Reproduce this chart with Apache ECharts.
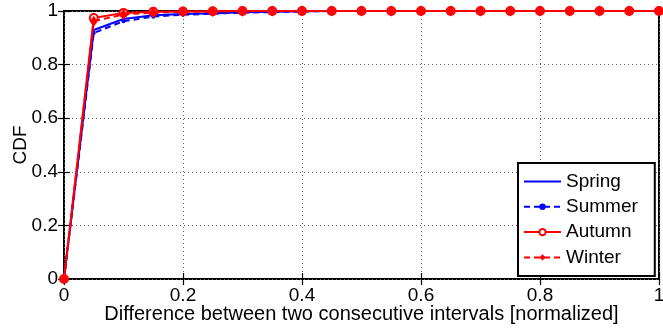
<!DOCTYPE html>
<html><head><meta charset="utf-8">
<script src="https://cdn.jsdelivr.net/npm/echarts@6/dist/echarts.min.js"></script>
<style>html,body{margin:0;padding:0;background:#fff}#c{width:663px;height:330px}</style>
</head><body><div id="c"></div>
<script>
const xValues = [0,0.05,0.1,0.15,0.2,0.25,0.3,0.35,0.4,0.45,0.5,0.55,0.6,0.65,0.7,0.75,0.8,0.85,0.9,0.95,1.0];
const spring = [0,0.929,0.970,0.984,0.989,0.992,0.995,0.997,0.999,1,1,1,1,1,1,1,1,1,1,1,1];
const summer = [0,0.918,0.962,0.979,0.986,0.990,0.994,0.996,0.998,1,1,1,1,1,1,1,1,1,1,1,1];
const autumn = [0,0.974,0.993,0.997,0.998,0.999,1,1,1,1,1,1,1,1,1,1,1,1,1,1,1];
const winter = [0,0.962,0.987,0.994,0.997,0.998,0.999,1,1,1,1,1,1,1,1,1,1,1,1,1,1];
const tickVals = [0,0.2,0.4,0.6,0.8,1];

const pairs = a => xValues.map((x,i)=>[x,a[i]]);
const FONT = 'Liberation Sans';
const FS = 19;
const chart = echarts.init(document.getElementById('c'));
const fmt = v => { const t = tickVals.find(k => Math.abs(k-v) < 1e-9); return String(t !== undefined ? t : v); };
const axisCommon = {min:0,max:1,interval:0.2,
  axisLine:{show:false}, axisTick:{show:true,inside:true,length:6,lineStyle:{color:'#000',width:1.2}}};
chart.setOption({
  animation:false,
  grid:{left:64,right:4,top:11,bottom:51,containLabel:false,outerBoundsMode:'none',
    show:true,borderColor:'#000',borderWidth:2,backgroundColor:'#fff'},
  legend:{
    orient:'vertical', left:518, top:163,
    backgroundColor:'#fff', borderColor:'#000', borderWidth:2,
    padding:[9,17,9,5], itemGap:6.3, itemWidth:37, itemHeight:8,
    textStyle:{fontFamily:FONT,fontSize:FS,lineHeight:19,color:'#000'},
    data:[{name:'Spring',itemStyle:{opacity:0}},'Summer','Autumn','Winter']
  },
  xAxis:[
    Object.assign({type:'value',position:'bottom',
      name:'Difference between two consecutive intervals [normalized]',nameLocation:'middle',nameGap:25,
      nameMoveOverlap:false,
      nameTextStyle:{fontFamily:FONT,fontSize:20,color:'#000'},
      axisLabel:{fontFamily:FONT,fontSize:FS,color:'#000',margin:7,formatter:fmt},
      splitLine:{show:true,lineStyle:{type:[1,3],color:'#666',width:1}}},axisCommon),
    Object.assign({type:'value',position:'top',axisLabel:{show:false},splitLine:{show:false}},axisCommon)
  ],
  yAxis:[
    Object.assign({type:'value',position:'left',
      name:'CDF',nameLocation:'middle',nameGap:34,nameMoveOverlap:false,
      nameTextStyle:{fontFamily:FONT,fontSize:FS,color:'#000'},
      axisLabel:{fontFamily:FONT,fontSize:FS,color:'#000',margin:6,formatter:fmt},
      splitLine:{show:true,lineStyle:{type:[1,3],color:'#666',width:1}}},axisCommon),
    Object.assign({type:'value',position:'right',axisLabel:{show:false},splitLine:{show:false}},axisCommon)
  ],
  series:[
    {name:'Spring',type:'line',data:pairs(spring),showSymbol:false,symbol:'none',
      lineStyle:{color:'#0000ff',width:2},itemStyle:{color:'#0000ff'},z:2},
    {name:'Summer',type:'line',data:pairs(summer),symbol:'circle',symbolSize:4,
      lineStyle:{color:'#0000ff',width:2,type:[6,4]},itemStyle:{color:'#0000ff'},z:3},
    {name:'Autumn',type:'line',data:pairs(autumn),symbol:'emptyCircle',symbolSize:8,
      lineStyle:{color:'#ff0000',width:2},itemStyle:{color:'#ff0000',borderColor:'#ff0000',borderWidth:2},z:4},
    {name:'Winter',type:'line',data:pairs(winter),symbol:'diamond',symbolSize:[8,11],
      lineStyle:{color:'#ff0000',width:2,type:[6,4]},itemStyle:{color:'#ff0000'},z:5}
  ]
});
</script></body></html>
